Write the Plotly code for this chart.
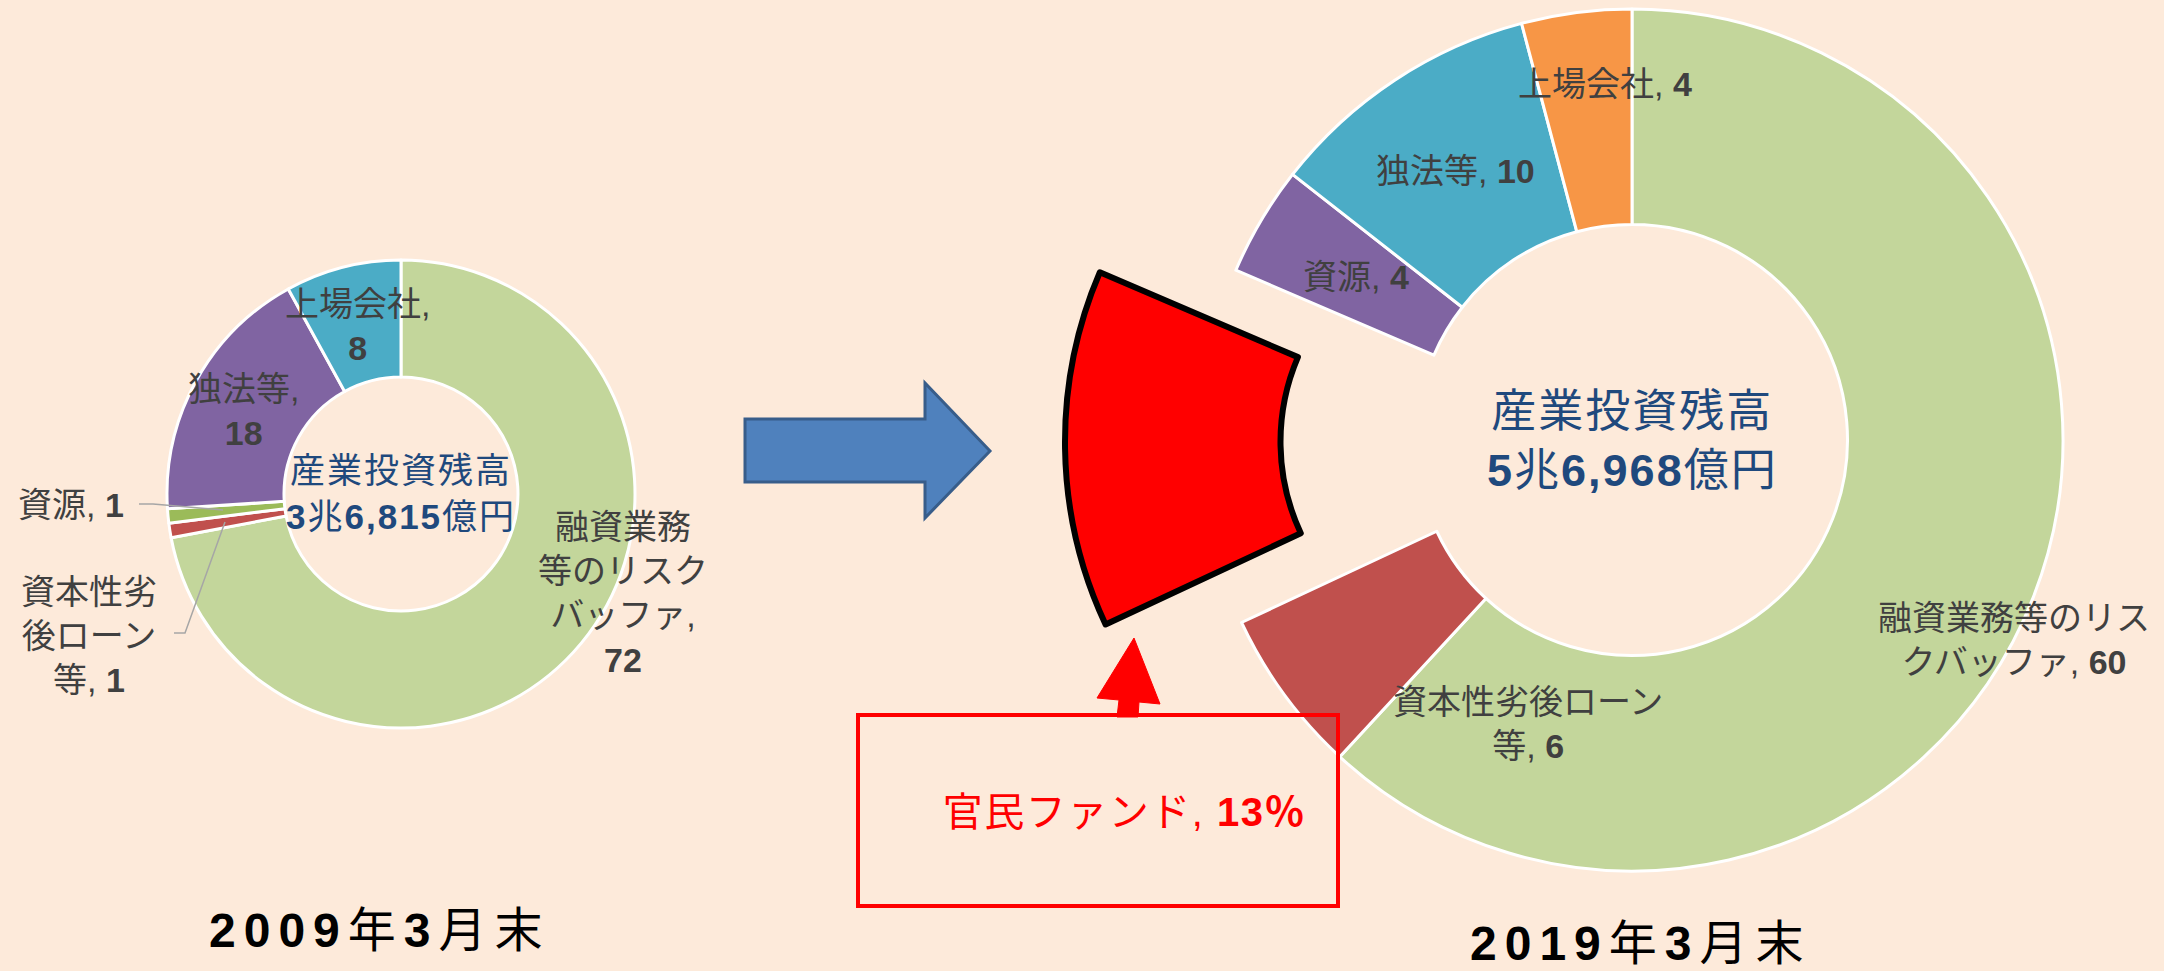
import plotly.graph_objects as go

W, H = 2164, 971

# ---------------- data ----------------
labels_2009 = ["融資業務等のリスクバッファ", "資本性劣後ローン等", "資源", "独法等", "上場会社"]
values_2009 = [72, 1, 1, 18, 8]
colors_2009 = ["#C3D69B", "#C0504D", "#9BBB59", "#8064A2", "#4BACC6"]
label_lines_2009 = ["融資業務<br>等のリスク<br>バッファ,<br>", "資本性劣<br>後ローン<br>等, ", "資源, ", "独法等,<br>", "上場会社,<br>"]

labels_2019 = ["融資業務等のリスクバッファ", "資本性劣後ローン等", "官民ファンド", "資源", "独法等", "上場会社"]
values_2019 = [60, 6, 13, 4, 10, 4]
colors_2019 = ["#C3D69B", "#C0504D", "#FF0000", "#8064A2", "#4BACC6", "#F79646"]
label_lines_2019 = ["融資業務等のリス<br>クバッファ, ", "資本性劣後ローン<br>等, ", "官民ファンド, ", "資源, ", "独法等, ", "上場会社, "]
highlight_2019 = 2   # 官民ファンド (exploded slice)

totals = ["<b>3</b>兆<b>6,815</b>億円", "<b>5</b>兆<b>6,968</b>億円"]
periods = ["<b>2009</b>年<b>3</b>月末", "<b>2019</b>年<b>3</b>月末"]

# ---------------- layout helpers (pixel -> paper) ----------------
def px(x):
    return x / W

def py(y):
    return 1 - y / H

def dom(cx, cy, r):
    return dict(x=[px(cx - r), px(cx + r)], y=[py(cy + r), py(cy - r)])

FONT = "Liberation Sans, Arial, Noto Sans CJK JP, sans-serif"
BG = "#FDEADA"
TXT = "#404040"
NAVY = "#1F497D"

fig = go.Figure()

# left donut (2009)
fig.add_trace(go.Pie(
    labels=labels_2009, values=values_2009, sort=False, direction="clockwise",
    rotation=0, hole=0.5, domain=dom(401, 494, 234),
    marker=dict(colors=colors_2009, line=dict(color="white", width=3)),
    textinfo="none", showlegend=False, hoverinfo="label+value",
))

# right donut (2019) without the exploded slice
main_colors = [c if i != highlight_2019 else "rgba(0,0,0,0)" for i, c in enumerate(colors_2019)]
main_lw = [3 if i != highlight_2019 else 0 for i in range(len(values_2019))]
fig.add_trace(go.Pie(
    labels=labels_2019, values=values_2019, sort=False, direction="clockwise",
    rotation=0, hole=0.5, domain=dom(1632, 440, 431),
    marker=dict(colors=main_colors, line=dict(color="white", width=main_lw)),
    textinfo="none", showlegend=False, hoverinfo="label+value",
))

# exploded slice (same pie, shifted outward)
ex_colors = [c if i == highlight_2019 else "rgba(0,0,0,0)" for i, c in enumerate(colors_2019)]
ex_lw = [6 if i == highlight_2019 else 0 for i in range(len(values_2019))]
fig.add_trace(go.Pie(
    labels=labels_2019, values=values_2019, sort=False, direction="clockwise",
    rotation=0, hole=0.5, domain=dom(1496, 442, 431),
    marker=dict(colors=ex_colors, line=dict(color="black", width=ex_lw)),
    textinfo="none", showlegend=False, hoverinfo="label+value",
))

annotations = []

def ann(text, x, y, size, color=TXT, xanchor="center"):
    annotations.append(dict(
        text=text, x=px(x), y=py(y), xref="paper", yref="paper",
        showarrow=False, xanchor=xanchor, yanchor="middle",
        font=dict(family=FONT, size=size, color=color), align="center",
    ))

# 2009 labels
pos_2009 = [(623, 593), (89, 636), (71, 505), (243, 411), (357, 326)]
for name, v, (x, y) in zip(label_lines_2009, values_2009, pos_2009):
    ann(f"{name}<b>{v}</b>", x, y, 34)

# 2019 labels (the highlighted slice gets a callout)
pos_2019 = [(2014, 640), (1528, 724), None, (1356, 277), (1455, 171), (1605, 84)]
for i, (name, v, p) in enumerate(zip(label_lines_2019, values_2019, pos_2019)):
    if i == highlight_2019:
        continue
    ann(f"{name}<b>{v}</b>", p[0], p[1], 34)

# callout for 官民ファンド
ann(f"{label_lines_2019[highlight_2019]}<b>{values_2019[highlight_2019]}％</b>", 1124, 812, 40, color="#FF0000")

# centre texts
ann(f"産業投資残高<br>{totals[0]}", 401, 493, 35, color=NAVY)
ann(f"産業投資残高<br>{totals[1]}", 1632, 441, 45, color=NAVY)

# period titles
ann(periods[0], 380, 930, 48, color="black")
ann(periods[1], 1641, 943, 48, color="black")

shapes = []

def path(points):
    return "M " + " L ".join(f"{px(x)},{py(y)}" for x, y in points) + " Z"

def open_path(points):
    return "M " + " L ".join(f"{px(x)},{py(y)}" for x, y in points)

# blue block arrow
shapes.append(dict(
    type="path", xref="paper", yref="paper",
    path=path([(745, 419), (925, 419), (925, 383), (990, 451), (925, 518), (925, 482), (745, 482)]),
    fillcolor="#4F81BD", line=dict(color="#385D8A", width=3),
))

# red callout box
shapes.append(dict(
    type="rect", xref="paper", yref="paper",
    x0=px(858), x1=px(1338), y0=py(906), y1=py(715),
    line=dict(color="#FF0000", width=4), fillcolor="rgba(0,0,0,0)",
))

# red up arrow
shapes.append(dict(
    type="path", xref="paper", yref="paper",
    path=path([(1134, 638), (1160, 704), (1139, 702), (1138, 717), (1117, 717), (1119, 700), (1097, 698)]),
    fillcolor="#FF0000", line=dict(color="#FF0000", width=1),
))

# leader lines (2009)
shapes.append(dict(
    type="path", xref="paper", yref="paper",
    path=open_path([(139, 504), (153, 504), (223, 510)]),
    line=dict(color="#A6A6A6", width=1.5),
))
shapes.append(dict(
    type="path", xref="paper", yref="paper",
    path=open_path([(174, 633), (185, 633), (225, 522)]),
    line=dict(color="#A6A6A6", width=1.5),
))

fig.update_layout(
    width=W, height=H,
    margin=dict(l=0, r=0, t=0, b=0),
    paper_bgcolor=BG, plot_bgcolor=BG,
    annotations=annotations, shapes=shapes,
    showlegend=False,
    font=dict(family=FONT),
)

post = """
document.body.style.margin = '0';
document.body.style.padding = '0';
document.body.style.background = '#FDEADA';
var gd = document.getElementById('{plot_id}');
gd.querySelectorAll('.annotation-text').forEach(function (t) {
  var s = t.textContent;
  if (s.indexOf('月末') >= 0) { t.style.letterSpacing = '8px'; }
  else if (s.indexOf('産業投資残高') >= 0) { t.style.letterSpacing = '2px'; }
  else if (s.indexOf('官民') >= 0) { t.style.letterSpacing = '1.5px'; }
});
"""

fig.write_html("out.html", post_script=post, config={"displayModeBar": False})
